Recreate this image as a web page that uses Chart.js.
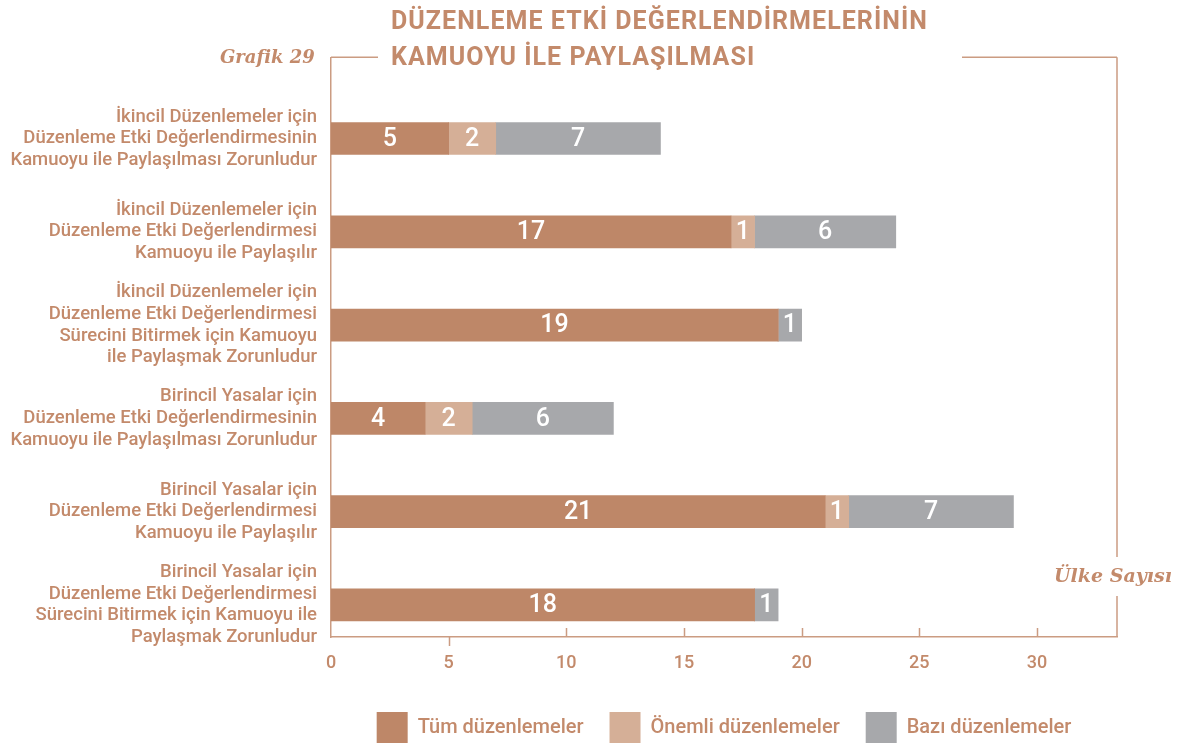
<!DOCTYPE html>
<html lang="tr">
<head>
<meta charset="utf-8">
<script src="https://cdn.jsdelivr.net/npm/chart.js@4.4.1/dist/chart.umd.min.js"></script>
<style>
  html, body { margin: 0; padding: 0; background: #fff; }
  #wrap { position: relative; width: 1191px; height: 743px; overflow: hidden; }
  #chart { position: absolute; left: 0; top: 0; }
  #title {
    position: absolute; left: 391px; top: 3px;
    font: 700 25px Roboto, sans-serif; line-height: 36px;
    color: #C38A6B; letter-spacing: 1.05px;
  }
  #fig {
    position: absolute; left: 220px; top: 46px;
    font: italic 700 18px 'DejaVu Serif', serif; color: #C38A6B;
  }
  #unit {
    position: absolute; left: 1054px; top: 564px;
    font: italic 700 19px 'DejaVu Serif', serif; color: #C38A6B;
  }
</style>
</head>
<body>
<div id="wrap">
  <canvas id="chart" width="1191" height="743"></canvas>
  <div id="title">DÜZENLEME ETKİ DEĞERLENDİRMELERİNİN<br>KAMUOYU İLE PAYLAŞILMASI</div>
  <div id="fig">Grafik 29</div>
  <div id="unit">Ülke Sayısı</div>
</div>
<script>
// categories, top to bottom
const categories = [
  ['İkincil Düzenlemeler için', 'Düzenleme Etki Değerlendirmesinin', 'Kamuoyu ile Paylaşılması Zorunludur'],
  ['İkincil Düzenlemeler için', 'Düzenleme Etki Değerlendirmesi', 'Kamuoyu ile Paylaşılır'],
  ['İkincil Düzenlemeler için', 'Düzenleme Etki Değerlendirmesi', 'Sürecini Bitirmek için Kamuoyu', 'ile Paylaşmak Zorunludur'],
  ['Birincil Yasalar için', 'Düzenleme Etki Değerlendirmesinin', 'Kamuoyu ile Paylaşılması Zorunludur'],
  ['Birincil Yasalar için', 'Düzenleme Etki Değerlendirmesi', 'Kamuoyu ile Paylaşılır'],
  ['Birincil Yasalar için', 'Düzenleme Etki Değerlendirmesi', 'Sürecini Bitirmek için Kamuoyu ile', 'Paylaşmak Zorunludur'],
];
const tumValues    = [5, 17, 19, 4, 21, 18];
const onemliValues = [2, 1, 0, 2, 1, 0];
const baziValues   = [7, 6, 1, 6, 7, 1];
const xTicks = [0, 5, 10, 15, 20, 25, 30];

const TEXT = '#C38A6B';
const LINE = '#CB9C82';
const FONT = 'Roboto, sans-serif';

const toPoints = vals => vals.map((v, i) => ({ x: v, y: i }));

// white numbers inside each segment
const valueLabels = {
  id: 'valueLabels',
  afterDatasetsDraw(chart) {
    const { ctx } = chart;
    ctx.save();
    ctx.fillStyle = '#fff';
    ctx.font = `500 25px ${FONT}`;
    ctx.textAlign = 'center';
    ctx.textBaseline = 'middle';
    chart.data.datasets.forEach((ds, di) => {
      const meta = chart.getDatasetMeta(di);
      meta.data.forEach((bar, i) => {
        const v = ds.data[i].x;
        if (!v) return;
        ctx.fillText(String(v), (bar.x + bar.base) / 2, bar.y + 1);
      });
    });
    ctx.restore();
  }
};

// frame around the plot + small tick marks on the value axis
const frame = {
  id: 'frame',
  afterDraw(chart) {
    const { ctx, chartArea: { left, right, top, bottom }, scales: { x } } = chart;
    ctx.save();
    ctx.strokeStyle = LINE;
    ctx.lineWidth = 1.5;
    ctx.beginPath();
    ctx.moveTo(left, top); ctx.lineTo(378, top);
    ctx.moveTo(962, top); ctx.lineTo(right, top);
    ctx.moveTo(right, top); ctx.lineTo(right, 557);
    ctx.moveTo(right, 596); ctx.lineTo(right, bottom);
    xTicks.forEach(v => {
      if (v === 0) return;
      const px = Math.round(x.getPixelForValue(v)) + 0.5;
      if (v === 5) { ctx.moveTo(px, bottom); ctx.lineTo(px, bottom + 9); }
      else { ctx.moveTo(px, bottom); ctx.lineTo(px, bottom - 9); }
    });
    ctx.stroke();
    ctx.restore();
  }
};

new Chart(document.getElementById('chart'), {
  type: 'bar',
  data: {
    datasets: [
      { label: 'Tüm düzenlemeler', data: toPoints(tumValues), backgroundColor: '#BE8768', stack: 's' },
      { label: 'Önemli düzenlemeler', data: toPoints(onemliValues), backgroundColor: '#D5AF97', stack: 's' },
      { label: 'Bazı düzenlemeler', data: toPoints(baziValues), backgroundColor: '#A7A8AB', stack: 's' },
    ],
  },
  options: {
    indexAxis: 'y',
    responsive: false,
    animation: false,
    devicePixelRatio: 1,
    barThickness: 32,
    borderWidth: 0,
    layout: { padding: { left: 0, right: 74, top: 57, bottom: -10 } },
    scales: {
      x: {
        type: 'linear',
        stacked: true,
        min: 0,
        max: 33.4,
        afterBuildTicks: s => { s.ticks = xTicks.map(v => ({ value: v })); },
        afterFit: s => { s.height = 49; },
        grid: { display: false, drawTicks: false },
        border: { color: LINE, width: 1.5 },
        ticks: { color: TEXT, font: { family: FONT, size: 18, weight: 500 }, padding: 16 },
      },
      y: {
        type: 'linear',
        reverse: true,
        offset: false,
        grace: 0,
        min: -0.871,
        max: 5.344,
        afterBuildTicks: s => { s.ticks = categories.map((_, i) => ({ value: i })); },
        afterFit: s => { s.width = 331; },
        grid: { display: false, drawTicks: false, offset: false },
        border: { color: LINE, width: 1.5 },
        ticks: {
          autoSkip: false,
          padding: 14,
          color: TEXT,
          font: { family: FONT, size: 18.5, weight: 500, lineHeight: 1.17 },
          callback: v => categories[v],
        },
      },
    },
    plugins: {
      legend: {
        position: 'bottom',
        fullSize: false,
        align: 'center',
        labels: {
          boxWidth: 31,
          boxHeight: 31,
          padding: 26,
          color: TEXT,
          font: { family: FONT, size: 20, weight: 500 },
        },
      },
      tooltip: { enabled: false },
    },
  },
  plugins: [valueLabels, frame],
});
</script>
</body>
</html>
